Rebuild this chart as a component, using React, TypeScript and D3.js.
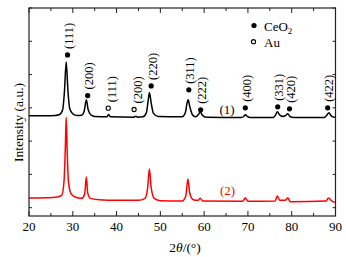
import React from "react";
import * as d3 from "d3";

// 2θ (deg) and intensity (a.u.)
const curve1X = [20, 24, 26, 27, 27.7, 28.1, 28.5, 28.9, 29.3, 30, 31, 32, 32.6, 33.1, 33.5, 34.2, 35, 37.8, 38.2, 38.6, 44, 44.4, 44.8, 46, 46.8, 47.2, 47.5, 47.9, 48.4, 49.5, 55, 55.7, 56.1, 56.35, 56.7, 57.3, 58, 58.7, 59.1, 59.6, 60.5, 68.5, 69.0, 69.4, 69.9, 70.5, 75.8, 76.3, 76.7, 77.3, 78.0, 78.6, 79.1, 79.6, 80.5, 87.5, 88.0, 88.5, 89.0, 89.8, 90];
const curve1Y = [2.76, 2.76, 2.77, 2.8, 2.95, 3.5, 4.38, 3.5, 2.98, 2.82, 2.77, 2.78, 2.9, 3.24, 2.95, 2.78, 2.74, 2.73, 2.8, 2.73, 2.72, 2.75, 2.72, 2.73, 2.85, 3.2, 3.46, 3.15, 2.84, 2.74, 2.73, 2.85, 3.15, 3.24, 3.05, 2.8, 2.73, 2.8, 2.88, 2.78, 2.72, 2.71, 2.74, 2.79, 2.74, 2.71, 2.71, 2.78, 2.88, 2.78, 2.74, 2.77, 2.82, 2.74, 2.71, 2.71, 2.78, 2.85, 2.76, 2.72, 2.72];

const curve2X = [20, 24, 26, 27.5, 28.0, 28.3, 28.5, 28.7, 29.0, 29.6, 30.5, 32, 32.7, 33.1, 33.4, 34, 36, 40, 45, 46.5, 47.1, 47.5, 47.9, 48.6, 50, 55, 55.8, 56.3, 56.7, 57.5, 58.6, 59.1, 59.7, 68.8, 69.4, 70, 76.2, 76.7, 77.3, 78.5, 79.1, 79.7, 87.8, 88.4, 89.2, 90];
const curve2Y = [0.29, 0.3, 0.31, 0.38, 0.8, 1.8, 2.72, 1.8, 0.8, 0.42, 0.32, 0.28, 0.4, 0.92, 0.45, 0.28, 0.24, 0.22, 0.22, 0.28, 0.6, 1.16, 0.6, 0.28, 0.21, 0.2, 0.35, 0.86, 0.45, 0.24, 0.22, 0.28, 0.2, 0.19, 0.29, 0.19, 0.2, 0.35, 0.22, 0.22, 0.29, 0.18, 0.2, 0.29, 0.2, 0.16];

// peak markers
const peakLabels = ["(111)", "(200)", "(111)", "(200)", "(220)", "(311)", "(222)", "(400)", "(331)", "(420)", "(422)"];
const peakX = [28.8, 33.4, 38.1, 44.0, 47.9, 56.5, 59.2, 69.4, 76.8, 79.5, 88.2];
const peakY = [4.59, 3.37, 2.99, 2.95, 3.66, 3.54, 2.94, 3.0, 3.03, 2.97, 3.0];
const peakPhase = ["CeO2", "CeO2", "Au", "Au", "CeO2", "CeO2", "CeO2", "CeO2", "CeO2", "CeO2", "CeO2"];

const xTicks = [20, 30, 40, 50, 60, 70, 80, 90];
const xMinor = [25, 35, 45, 55, 65, 75, 85];
const yTicks = [0, 1, 2, 3, 4, 5, 6];

const W = 346, H = 257;
const L = 29, R = 335.5, T = 8, B = 216;
const FONT = "'Liberation Serif', 'Times New Roman', serif";

export default function App() {
  const x = d3.scaleLinear().domain([20, 90]).range([L, R]);
  const y = d3.scaleLinear().domain([-0.25, 6]).range([B, T]);
  const line = d3.line<number>().x((d, i) => x(d)).curve(d3.curveMonotoneX);
  const mk = (xs: number[], ys: number[]) =>
    d3.line<number>().x((d) => x(d)).y((d, i) => y(ys[i])).curve(d3.curveMonotoneX)(xs) || "";
  void line;

  return (
    <svg width={W} height={H} style={{ position: "absolute", left: 0, top: 0, background: "#fff" }} fontFamily={FONT}>
      <rect x={0} y={0} width={W} height={H} fill="#fff" />
      <path d={mk(curve2X, curve2Y)} fill="none" stroke="#ff0000" strokeWidth={1.5} strokeLinejoin="round" />
      <path d={mk(curve1X, curve1Y)} fill="none" stroke="#000" strokeWidth={1.5} strokeLinejoin="round" />

      {/* axes frame */}
      <rect x={L} y={T} width={R - L} height={B - T} fill="none" stroke="#222" strokeWidth={1.2} />
      {xTicks.map((t) => (
        <g key={"xt" + t}>
          <line x1={x(t)} x2={x(t)} y1={B} y2={B - 5} stroke="#222" strokeWidth={1} />
          <line x1={x(t)} x2={x(t)} y1={T} y2={T + 5} stroke="#222" strokeWidth={1} />
          <text x={x(t)} y={230.5} fontSize={13} textAnchor="middle" fill="#000">{t}</text>
        </g>
      ))}
      {xMinor.map((t) => (
        <g key={"xm" + t}>
          <line x1={x(t)} x2={x(t)} y1={B} y2={B - 3} stroke="#222" strokeWidth={1} />
          <line x1={x(t)} x2={x(t)} y1={T} y2={T + 3} stroke="#222" strokeWidth={1} />
        </g>
      ))}
      {yTicks.map((t) => (
        <g key={"yt" + t}>
          <line x1={L} x2={L + 3} y1={y(t)} y2={y(t)} stroke="#222" strokeWidth={1} />
          <line x1={R} x2={R - 3} y1={y(t)} y2={y(t)} stroke="#222" strokeWidth={1} />
        </g>
      ))}

      {/* peak markers */}
      {peakX.map((p, i) => (
        <g key={"pk" + i}>
          {peakPhase[i] === "CeO2" ? (
            <circle cx={x(p)} cy={y(peakY[i])} r={2.6} fill="#000" />
          ) : (
            <circle cx={x(p)} cy={y(peakY[i])} r={2.1} fill="#fff" stroke="#000" strokeWidth={1.1} />
          )}
          <text
            transform={`translate(${x(p) + (peakPhase[i] === "Au" ? 3.5 : 1)},${y(peakY[i]) - 6}) rotate(-90)`}
            dy="0.35em"
            fontSize={12.5}
            fill="#000"
          >
            {peakLabels[i]}
          </text>
        </g>
      ))}

      {/* curve labels */}
      <text x={227} y={114} fontSize={13} textAnchor="middle" fill="#000">(1)</text>
      <text x={227.5} y={195} fontSize={13} textAnchor="middle" fill="#ff0000">(2)</text>

      {/* legend */}
      <circle cx={254} cy={25.5} r={2.6} fill="#000" />
      <text x={264} y={30.5} fontSize={13} fill="#000">
        CeO<tspan fontSize={9} dy={3}>2</tspan>
      </text>
      <circle cx={253.5} cy={41.7} r={2.1} fill="#fff" stroke="#000" strokeWidth={1.1} />
      <text x={264} y={46.5} fontSize={13} fill="#000">Au</text>

      {/* axis titles */}
      <text transform="translate(22.5,122.5) rotate(-90)" fontSize={13.5} textAnchor="middle" fill="#000">
        Intensity (a.u.)
      </text>
      <text x={185} y={252} fontSize={13.5} textAnchor="middle" fill="#000">
        2<tspan fontStyle="italic">θ</tspan>/(°)
      </text>
    </svg>
  );
}
